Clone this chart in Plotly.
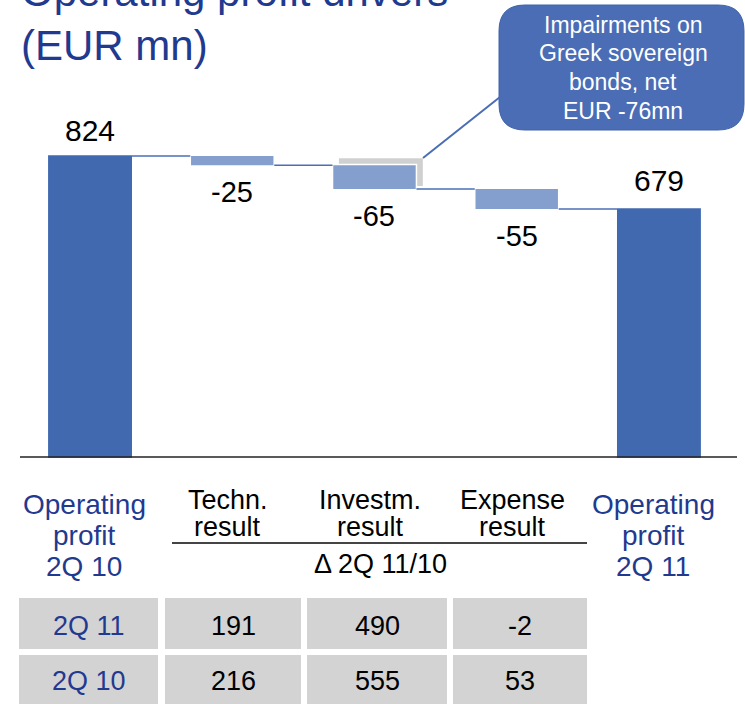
import plotly.graph_objects as go

# data
categories = ["Operating profit 2Q 10", "Techn. result", "Investm. result",
              "Expense result", "Operating profit 2Q 11"]
start_profit = 824
end_profit = 679
deltas = [-25, -65, -55]
impairment = -76

label_lines = [["Operating", "profit", "2Q 10"], ["Techn.", "result"],
               ["Investm.", "result"], ["Expense", "result"],
               ["Operating", "profit", "2Q 11"]]
delta_caption = "Δ 2Q 11/10"

table_rows = ["2Q 11", "2Q 10"]
techn = [191, 216]
investm = [490, 555]
expense = [-2, 53]

W, H = 745, 704
NAVY = "#1F3A8F"
DARK = "#4169B0"
LIGHT = "#849FCD"


def px(x):  # pixel -> paper
    return x / W


def py(y):
    return 1 - y / H


fig = go.Figure()
fig.add_trace(go.Waterfall(
    x=categories,
    y=[start_profit] + deltas + [0],
    measure=["absolute"] + ["relative"] * len(deltas) + ["total"],
    width=0.59,
    totals=dict(marker=dict(color=DARK)),
    decreasing=dict(marker=dict(color=LIGHT, line=dict(color="white", width=1.5))),
    increasing=dict(marker=dict(color=LIGHT)),
    connector=dict(line=dict(color="#4A6FB5", width=1.5)),
    textinfo="none", hoverinfo="skip",
))

# value labels
level = start_profit
levels = [start_profit]
for d in deltas:
    level += d
    levels.append(level)
fig.add_annotation(x=0, y=start_profit, text=str(start_profit), showarrow=False,
                   xanchor="center", yanchor="middle", yshift=26,
                   font=dict(size=30, color="black"))
fig.add_annotation(x=4, y=end_profit, text=str(end_profit), showarrow=False,
                   xanchor="center", yanchor="middle", yshift=28,
                   font=dict(size=30, color="black"))
for i, d in enumerate(deltas):
    fig.add_annotation(x=i + 1, y=levels[i + 1], text=str(d), showarrow=False,
                       xanchor="center", yanchor="middle", yshift=-27,
                       font=dict(size=29, color="black"))

# grey ghost bar for the impairment behind investment result
ghost_top = levels[1] + 19
fig.add_shape(type="rect", xref="x", yref="y", x0=1.75, x1=2.34,
              y0=ghost_top + impairment, y1=ghost_top,
              fillcolor="#D0D0D0", line=dict(width=0), layer="below")

# baseline
fig.add_shape(type="line", xref="paper", yref="y", x0=px(20), x1=px(737), y0=0, y1=0,
              line=dict(color="#222222", width=1.5))

# callout box
x0, x1, y0, y1, r = px(499), px(744), py(5), py(130), 26
rx, ry = r / W, r / H
path = (f"M {x0+rx},{y0} L {x1-rx},{y0} Q {x1},{y0} {x1},{y0-ry} "
        f"L {x1},{y1+ry} Q {x1},{y1} {x1-rx},{y1} L {x0+rx},{y1} "
        f"Q {x0},{y1} {x0},{y1+ry} L {x0},{y0-ry} Q {x0},{y0} {x0+rx},{y0} Z")
fig.add_shape(type="path", xref="paper", yref="paper", path=path,
              fillcolor="#4A6DB5", line=dict(color="#3F62A8", width=1))
fig.add_shape(type="line", xref="paper", yref="paper", x0=px(423), y0=py(158),
              x1=px(500), y1=py(97), line=dict(color="#4A6DB5", width=2))
callout = ["Impairments on", "Greek sovereign", "bonds, net", f"EUR {impairment}mn"]
for k, line in enumerate(callout):
    fig.add_annotation(xref="paper", yref="paper", x=px(623), y=py(25 + 28.5 * k),
                       text=line, showarrow=False, xanchor="center", yanchor="middle",
                       font=dict(size=23, color="white"))

# title (first line runs off the top)
fig.add_annotation(xref="paper", yref="paper", x=px(19), y=py(-9), xanchor="left",
                   yanchor="middle", text="Operating profit drivers", showarrow=False,
                   font=dict(size=42, color=NAVY))
fig.add_annotation(xref="paper", yref="paper", x=px(19), y=py(46), xanchor="left",
                   yanchor="middle", text="(EUR mn)", showarrow=False,
                   font=dict(size=42, color=NAVY))

# category labels
for i, lines in enumerate(label_lines):
    total = i in (0, len(label_lines) - 1)
    for k, line in enumerate(lines):
        y = (504 + 31 * k) if total else (500 + 27 * k)
        fig.add_annotation(x=i - (0.04 if total else 0.03), xref="x", yref="paper",
                           y=py(y), text=line, showarrow=False,
                           xanchor="center", yanchor="middle",
                           font=dict(size=28 if total else 27,
                                     color=NAVY if total else "black"))
fig.add_shape(type="line", xref="paper", yref="paper", x0=px(172), x1=px(587),
              y0=py(543), y1=py(543), line=dict(color="#444444", width=2))
fig.add_annotation(xref="paper", yref="paper", x=px(380), y=py(564), text=delta_caption,
                   showarrow=False, xanchor="center", yanchor="middle",
                   font=dict(size=27, color="black"))

# table
col_edges = [(19, 158), (165, 301), (307, 447), (453, 587)]
row_edges = [(598, 649), (655, 712)]
columns = [table_rows, techn, investm, expense]
for r_i, (ry0, ry1) in enumerate(row_edges):
    for c_i, (cx0, cx1) in enumerate(col_edges):
        fig.add_shape(type="rect", xref="paper", yref="paper", x0=px(cx0), x1=px(cx1),
                      y0=py(ry1), y1=py(ry0), fillcolor="#D3D3D3", line=dict(width=0))
        fig.add_annotation(xref="paper", yref="paper", x=px((cx0 + cx1) / 2),
                           y=py(626 if r_i == 0 else 681), text=str(columns[c_i][r_i]),
                           showarrow=False, xanchor="center", yanchor="middle",
                           font=dict(size=27, color=NAVY if c_i == 0 else "black"))

fig.update_layout(
    width=W, height=H, margin=dict(l=0, r=0, t=0, b=0),
    paper_bgcolor="white", plot_bgcolor="white", showlegend=False,
    font=dict(family="Liberation Sans, Arial, sans-serif"),
    xaxis=dict(visible=False, range=[-0.633, 4.605], domain=[0, 1]),
    yaxis=dict(visible=False, range=[-676, 1251], domain=[0, 1]),
)

fig.write_html("out.html", config={"displayModeBar": False},
               post_script="document.body.style.margin='0';")
